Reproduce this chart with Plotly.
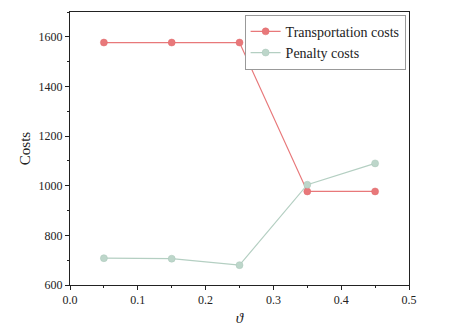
import plotly.graph_objects as go

# data
theta = [0.05, 0.15, 0.25, 0.35, 0.45]
transport_costs = [1577, 1577, 1577, 977, 977]
penalty_costs = [708, 706, 680, 1004, 1090]

font = "Liberation Serif, Times New Roman, serif"

fig = go.Figure()
fig.add_trace(go.Scatter(
    x=theta, y=transport_costs, name="Transportation costs",
    mode="lines+markers",
    line=dict(color="#e8787a", width=1.2),
    marker=dict(size=7, color="#e8787a", line=dict(color="#e06a6d", width=0.5)),
))
fig.add_trace(go.Scatter(
    x=theta, y=penalty_costs, name="Penalty costs",
    mode="lines+markers",
    line=dict(color="#b4cfc2", width=1.2),
    marker=dict(size=7, color="#bdd6ca", line=dict(color="#a9c6b8", width=0.5)),
))

axis_common = dict(
    showline=True, linecolor="#222", linewidth=1, mirror=True,
    ticks="outside", ticklen=4, tickcolor="#222",
    showgrid=False, zeroline=False,
    tickfont=dict(family=font, size=12, color="#222"),
)

fig.update_xaxes(
    range=[0, 0.5], dtick=0.1, tickformat=".1f",
    minor=dict(dtick=0.05, ticks="outside", ticklen=2, tickcolor="#222"),
    title=dict(text="<i>ϑ</i>", font=dict(family=font, size=15, color="#222"), standoff=6),
    **axis_common,
)
fig.update_yaxes(
    range=[600, 1700], dtick=200,
    minor=dict(dtick=100, ticks="outside", ticklen=2, tickcolor="#222"),
    title=dict(text="Costs", font=dict(family=font, size=15, color="#222"), standoff=4),
    **axis_common,
)

# the page body adds an 8px margin, so the figure margins are shifted to compensate
fig.update_layout(
    width=469, height=330,
    margin=dict(l=62, r=68, t=4, b=53),
    plot_bgcolor="white", paper_bgcolor="white",
    font=dict(family=font, size=14, color="#222"),
    legend=dict(
        x=0.99, y=0.99, xanchor="right", yanchor="top",
        bordercolor="#999", borderwidth=1, bgcolor="white",
        font=dict(family=font, size=14, color="#222"),
        tracegroupgap=0, itemwidth=30,
    ),
    showlegend=True,
)

fig.write_html("out.html")
